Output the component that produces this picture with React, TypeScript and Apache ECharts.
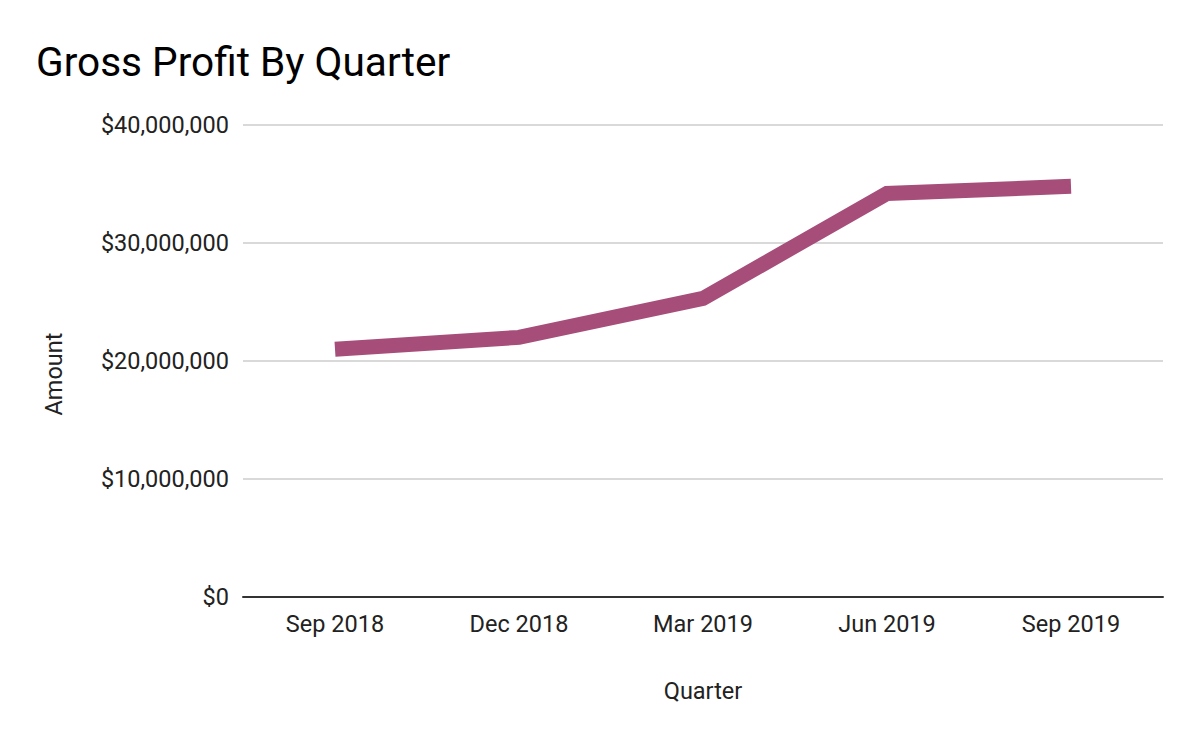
import React, { useEffect, useRef } from "react";
import * as echarts from "echarts";

const quarters = ["Sep 2018", "Dec 2018", "Mar 2019", "Jun 2019", "Sep 2019"];
const grossProfit = [21000000, 22000000, 25300000, 34200000, 34800000];
const yTicks = { min: 0, max: 40000000, interval: 10000000 };

export default function App() {
  const ref = useRef<HTMLDivElement>(null);
  useEffect(() => {
    const chart = echarts.init(ref.current!, null, { renderer: "svg" });
    chart.setOption({
      animation: false,
      backgroundColor: "#ffffff",
      textStyle: { fontFamily: "Roboto" },
      title: {
        text: "Gross Profit By Quarter",
        left: 31,
        top: 36,
        textStyle: { fontFamily: "Roboto", fontSize: 40.6, fontWeight: "normal", color: "#000000" },
      },
      graphic: [
        {
          type: "text",
          x: 54,
          y: 374,
          rotation: Math.PI / 2,
          style: {
            text: "Amount",
            fontFamily: "Roboto",
            fontSize: 23.5,
            fill: "#222222",
            align: "center",
            verticalAlign: "middle",
          },
        },
      ],
      grid: { left: 243, right: 37, top: 125, bottom: 145, containLabel: false },
      xAxis: {
        type: "category",
        data: quarters,
        boundaryGap: true,
        name: "Quarter",
        nameLocation: "middle",
        nameGap: 82,
        nameTextStyle: { fontFamily: "Roboto", fontSize: 23.5, color: "#222222" },
        axisLine: { lineStyle: { color: "#333333", width: 2 } },
        axisTick: { show: false },
        axisLabel: { fontFamily: "Roboto", fontSize: 23.5, color: "#222222", margin: 15 },
      },
      yAxis: {
        type: "value",
        min: yTicks.min,
        max: yTicks.max,
        interval: yTicks.interval,
        axisLine: { show: false },
        axisTick: { show: false },
        splitLine: { lineStyle: { color: "#cccccc", width: 1.5 } },
        axisLabel: {
          fontFamily: "Roboto",
          fontSize: 23.5,
          color: "#222222",
          margin: 14,
          formatter: (v: number) => "$" + v.toLocaleString("en-US"),
        },
      },
      series: [
        {
          type: "line",
          data: grossProfit,
          showSymbol: false,
          symbol: "none",
          lineStyle: { color: "#a64d79", width: 15, cap: "butt", join: "miter" },
          itemStyle: { color: "#a64d79" },
        },
      ],
    });
    return () => chart.dispose();
  }, []);
  return <div ref={ref} style={{ width: 1200, height: 742, margin: -8 }} />;
}
